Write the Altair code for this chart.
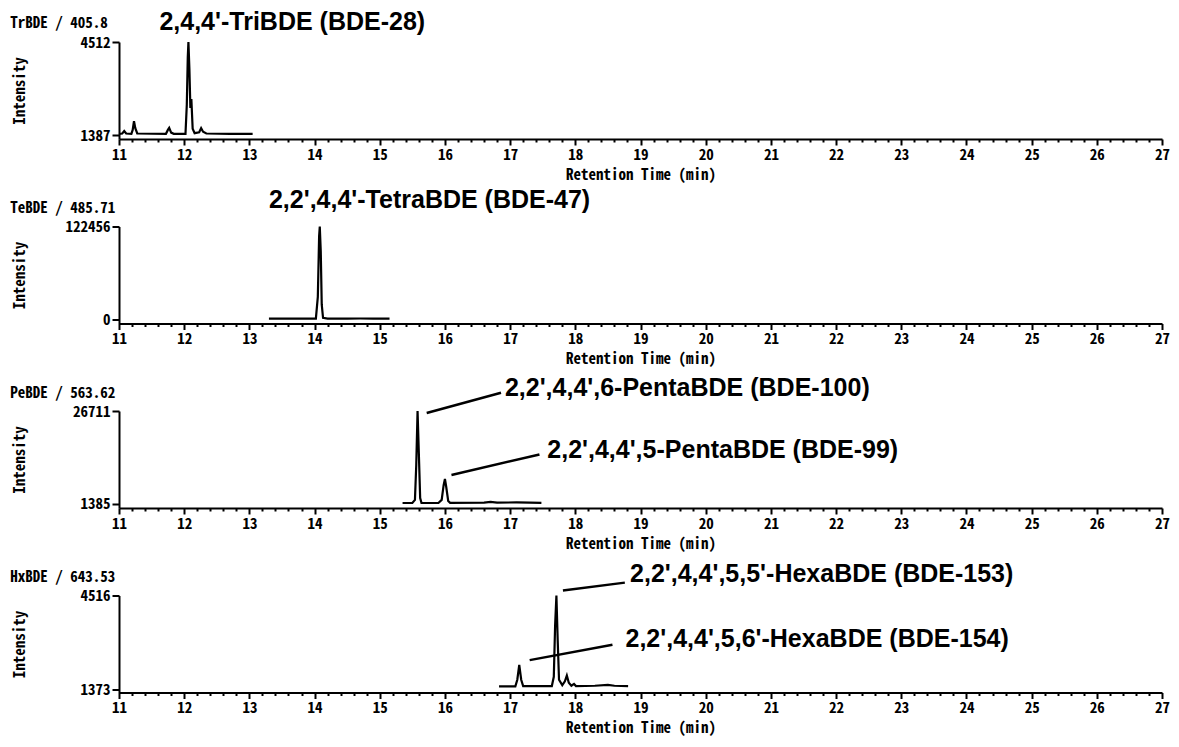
import altair as alt
import pandas as pd

W = 1043
H = 97
MONO = "Noto Sans Mono CJK JP, DejaVu Sans Mono, monospace"
MONO_SIZE = 15
MONO_WEIGHT = "bold"
BOLD = "Liberation Sans, Arial, sans-serif"

# ---- data ----
panel_names = ["TrBDE / 405.8", "TeBDE / 485.71", "PeBDE / 563.62", "HxBDE / 643.53"]
y_low_tick = [1387, 0, 1385, 1373]
y_high_tick = [4512, 122456, 26711, 4516]
y_floor = [1255, -5000, 285, 1274]
title_offset_px = [19, 18.5, 18.5, 19]

tr_time = [11.00, 11.05, 11.08, 11.11, 11.19, 11.21, 11.23, 11.25, 11.28, 11.72, 11.75, 11.77,
           11.80, 11.84, 12.02, 12.04, 12.055, 12.065, 12.08, 12.095, 12.11, 12.13, 12.16,
           12.23, 12.26, 12.29, 12.34, 12.70, 13.05]
tr_int = [1430, 1440, 1520, 1440, 1430, 1560, 1850, 1620, 1440, 1430, 1560, 1628,
          1470, 1430, 1430, 2400, 4000, 4512, 3600, 2300, 2600, 1600, 1450,
          1480, 1620, 1500, 1440, 1430, 1430]

te_time = [13.30, 13.90, 14.02, 14.05, 14.07, 14.08, 14.095, 14.11, 14.13, 14.20, 14.50,
           14.70, 14.90, 15.15]
te_int = [1300, 1300, 1400, 30000, 110000, 122456, 90000, 20000, 2500, 1500, 1400,
          1600, 1500, 1400]

pe_time = [15.35, 15.50, 15.54, 15.56, 15.58, 15.60, 15.62, 15.64, 15.90, 15.95, 15.98,
           16.00, 16.02, 16.05, 16.08, 16.60, 16.70, 16.80, 17.10, 17.30, 17.48]
pe_int = [1650, 1650, 2500, 12000, 26711, 15000, 3000, 1700, 1650, 2500, 6500,
          8200, 6000, 2200, 1700, 1750, 1950, 1750, 1800, 1750, 1700]

hx_time = [16.83, 17.08, 17.11, 17.14, 17.17, 17.20, 17.64, 17.67, 17.69, 17.71, 17.73,
           17.75, 17.80, 17.84, 17.87, 17.90, 17.94, 17.98, 18.01, 18.30, 18.50, 18.60, 18.81]
hx_int = [1480, 1480, 1700, 2200, 1700, 1490, 1490, 1800, 3500, 4516, 3000,
          1700, 1520, 1650, 1840, 1600, 1500, 1560, 1490, 1500, 1530, 1500, 1490]

label_text = [["2,4,4'-TriBDE (BDE-28)"],
              ["2,2',4,4'-TetraBDE (BDE-47)"],
              ["2,2',4,4',6-PentaBDE (BDE-100)", "2,2',4,4',5-PentaBDE (BDE-99)"],
              ["2,2',4,4',5,5'-HexaBDE (BDE-153)", "2,2',4,4',5,6'-HexaBDE (BDE-154)"]]
label_x = [[11.62], [13.30], [16.92, 17.57], [18.84, 18.77]]
label_y = [[5170], [157000], [32860, 16030], [5225, 3070]]

leader_x1 = [[], [], [15.72, 16.10], [17.81, 17.30]]
leader_y1 = [[], [], [26160, 9285], [4681, 2356]]
leader_x2 = [[], [], [16.86, 17.45], [18.76, 18.57]]
leader_y2 = [[], [], [31700, 14873], [4946, 2872]]

major_ticks = list(range(11, 28))
minor_ticks = [round(11 + i * 0.2, 1) for i in range(81) if i % 5 != 0]
TITLE_X = 9.33  # retention-time units, left of the axis

traces = [(tr_time, tr_int), (te_time, te_int), (pe_time, pe_int), (hx_time, hx_int)]


def make_panel(i):
    t, v = traces[i]
    lo, hi, floor = y_low_tick[i], y_high_tick[i], y_floor[i]
    perpx = (hi - floor) / H
    xs = alt.Scale(domain=[11, 27], nice=False, zero=False)
    ys = alt.Scale(domain=[floor, hi], nice=False, zero=False)

    major_axis = alt.Axis(values=major_ticks, orient="bottom", tickSize=6, tickWidth=2,
                          tickColor="black", domainWidth=2, domainColor="black",
                          labelColor="black", labelFont=MONO, labelFontSize=MONO_SIZE,
                          labelFontWeight=MONO_WEIGHT,
                          labelPadding=2, labelFlush=False, labelOverlap=False, grid=False,
                          format="d", title="Retention Time (min)", titleFont=MONO,
                          titleFontSize=MONO_SIZE, titleFontWeight=MONO_WEIGHT,
                          titleColor="black", titlePadding=5)
    minor_axis = alt.Axis(values=minor_ticks, orient="bottom", tickSize=3, tickWidth=2,
                          tickColor="black", labels=False, domain=False, grid=False,
                          title=None)
    y_axis = alt.Axis(values=[lo, hi], tickSize=7, tickWidth=2, tickColor="black",
                      domainWidth=2, domainColor="black", labelColor="black",
                      labelFont=MONO, labelFontSize=MONO_SIZE, labelFontWeight=MONO_WEIGHT,
                      labelPadding=2,
                      labelFlush=False, labelOverlap=False, grid=False, format="d",
                      title="Intensity", titleFont=MONO, titleFontSize=MONO_SIZE,
                      titleFontWeight=MONO_WEIGHT, titleColor="black", titleAngle=-90,
                      titleBaseline="middle", titleAlign="center", titleX=-100,
                      titleY=H / 2)

    trace = alt.Chart(pd.DataFrame({"t": t, "v": v})).mark_line(
        color="black", strokeWidth=2.2).encode(
        x=alt.X("t:Q", scale=xs, axis=major_axis),
        y=alt.Y("v:Q", scale=ys, axis=y_axis))

    title_df = pd.DataFrame({"x": [TITLE_X], "y": [hi + title_offset_px[i] * perpx],
                             "text": [panel_names[i]]})
    title = alt.Chart(title_df).mark_text(
        align="left", baseline="middle", font=MONO, fontSize=MONO_SIZE,
        fontWeight=MONO_WEIGHT, color="black").encode(
        x=alt.X("x:Q", scale=xs, axis=minor_axis),
        y=alt.Y("y:Q", scale=ys, axis=y_axis),
        text="text:N")

    lab_df = pd.DataFrame({"x": label_x[i], "y": label_y[i], "text": label_text[i]})
    labels = alt.Chart(lab_df).mark_text(
        align="left", baseline="middle", font=BOLD, fontWeight="bold", fontSize=25,
        color="black").encode(
        x=alt.X("x:Q", scale=xs, axis=None),
        y=alt.Y("y:Q", scale=ys, axis=y_axis),
        text="text:N")

    layers = [trace, title, labels]
    if leader_x1[i]:
        ld = pd.DataFrame({"x1": leader_x1[i], "y1": leader_y1[i],
                           "x2": leader_x2[i], "y2": leader_y2[i]})
        rules = alt.Chart(ld).mark_rule(color="black", strokeWidth=2.5).encode(
            x=alt.X("x1:Q", scale=xs, axis=None), x2="x2:Q",
            y=alt.Y("y1:Q", scale=ys, axis=y_axis), y2="y2:Q")
        layers.append(rules)

    return alt.layer(*layers).resolve_axis(x="independent").properties(width=W, height=H)


chart = alt.vconcat(*[make_panel(i) for i in range(4)], spacing=87.5, bounds="flush").properties(
    padding={"left": 2, "top": 2, "right": 0, "bottom": 0},
    background="white",
).configure_view(stroke=None)

chart.save("out.html", embed_options={"renderer": "svg", "actions": False})
